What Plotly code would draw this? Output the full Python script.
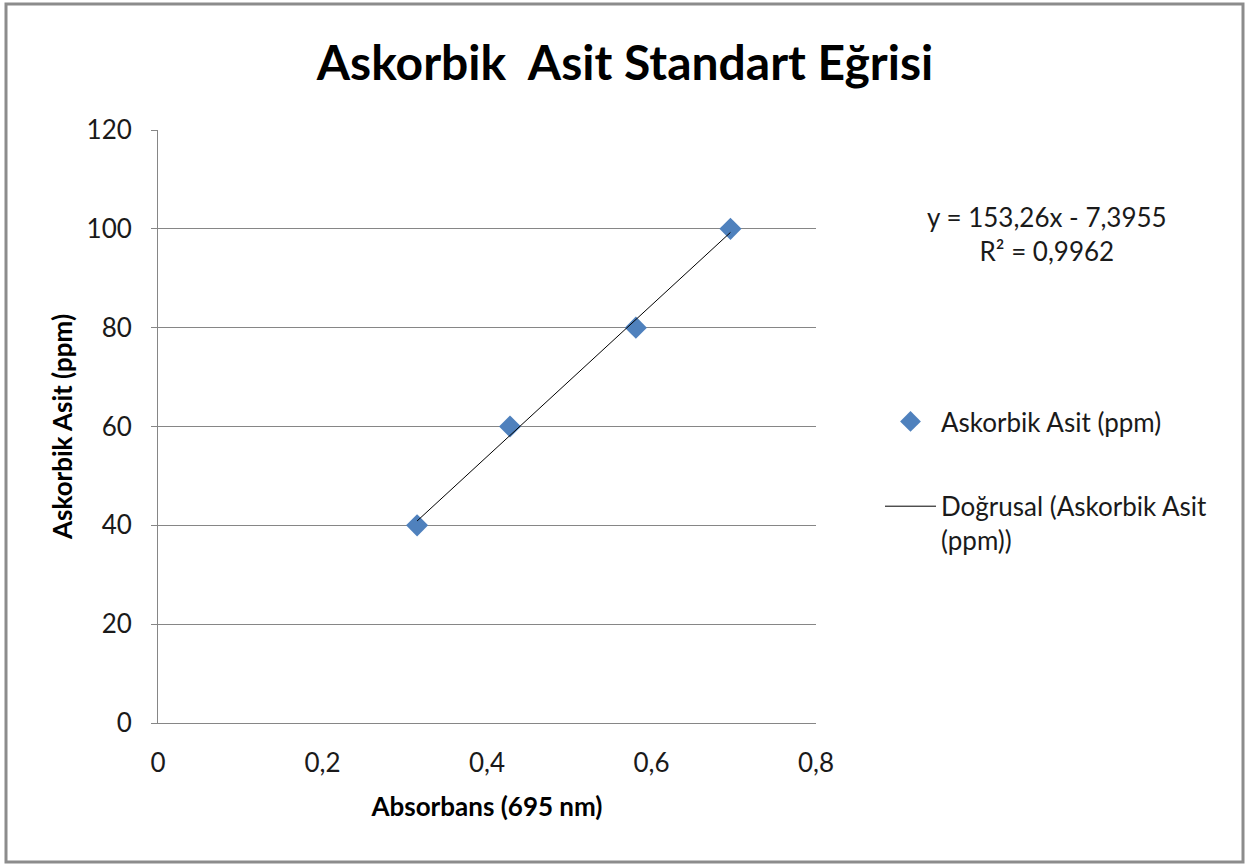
import plotly.graph_objects as go

# Calibration data: absorbance at 695 nm vs ascorbic acid concentration
absorbance = [0.315, 0.428, 0.581, 0.696]
concentration = [40, 60, 80, 100]

# Linear fit reported on the chart
slope = 153.26
intercept = -7.3955
r_squared = 0.9962

x_ticks = [0, 0.2, 0.4, 0.6, 0.8]
y_ticks = [0, 20, 40, 60, 80, 100, 120]

W, H = 1250, 864
L, R, T, B = 158, 434, 130, 141
PW, PH = W - L - R, H - T - B

FONT = "Lato"

def px_to_paper_x(px):
    return (px - L) / PW

def px_to_paper_y(py):
    return (H - B - py) / PH

fit_x = [min(absorbance), max(absorbance)]
fit_y = [slope * v + intercept for v in fit_x]

fig = go.Figure()
fig.add_trace(go.Scatter(
    x=absorbance, y=concentration, mode="markers",
    name="Askorbik Asit (ppm)",
    marker=dict(symbol="diamond", size=17, color="#4f81bd", line=dict(width=0)),
    legendgroup="a",
))
fig.add_trace(go.Scatter(
    x=fit_x, y=fit_y, mode="lines",
    name="Doğrusal (Askorbik Asit<br>(ppm))",
    line=dict(color="black", width=1),
    legendgroup="b",
))

fmt = lambda v: f"{v:.4f}".rstrip("0").replace(".", ",")
eq_text = f"y = {fmt(slope)}x - {fmt(abs(intercept))}<br>R² = {fmt(r_squared)}"

fig.update_layout(
    width=W, height=H,
    margin=dict(l=L, r=R, t=T, b=B),
    paper_bgcolor="white", plot_bgcolor="white",
    separators=", ",
    font=dict(family=FONT, size=26, color="#1a1a1a"),
    title=dict(
        text="<b>Askorbik  Asit Standart Eğrisi</b>",
        x=0.5, xref="container", xanchor="center",
        y=1 - 63 / H, yref="container", yanchor="middle",
        font=dict(family=FONT, size=48, color="black"),
    ),
    xaxis=dict(
        range=[0, 0.8], tickvals=x_ticks, showgrid=False,
        showline=True, linecolor="#868686", linewidth=1,
        ticks="", tickfont=dict(size=26), ticklabelstandoff=17,
        title=dict(text="<b>Absorbans (695 nm)</b>", font=dict(size=26, color="black"), standoff=20),
        zeroline=False,
    ),
    yaxis=dict(
        range=[0, 120], tickvals=y_ticks, showgrid=True,
        gridcolor="#868686", gridwidth=1,
        showline=True, linecolor="#868686", linewidth=1,
        ticks="outside", ticklen=6, tickcolor="#868686",
        tickfont=dict(size=26), ticklabelstandoff=14,
        title=dict(text="<b>Askorbik Asit (ppm)</b>", font=dict(size=26, color="black"), standoff=6),
        zeroline=False,
    ),
    legend=dict(
        x=px_to_paper_x(880), y=px_to_paper_y(398), xanchor="left", yanchor="top",
        font=dict(size=26, color="#1a1a1a"),
        traceorder="grouped", tracegroupgap=48, valign="top",
        itemwidth=51,
        bgcolor="rgba(0,0,0,0)",
    ),
    annotations=[dict(
        text=eq_text, x=px_to_paper_x(1047), y=px_to_paper_y(234),
        xref="paper", yref="paper", xanchor="center", yanchor="middle",
        showarrow=False, align="center", font=dict(size=26, color="#1a1a1a"),
    )],
    shapes=[dict(
        type="rect", xref="paper", yref="paper",
        x0=px_to_paper_x(6), x1=px_to_paper_x(1243),
        y0=px_to_paper_y(862), y1=px_to_paper_y(4),
        line=dict(color="#8c8c8c", width=3), fillcolor="rgba(0,0,0,0)",
    )],
)

fig.write_html("out.html")
